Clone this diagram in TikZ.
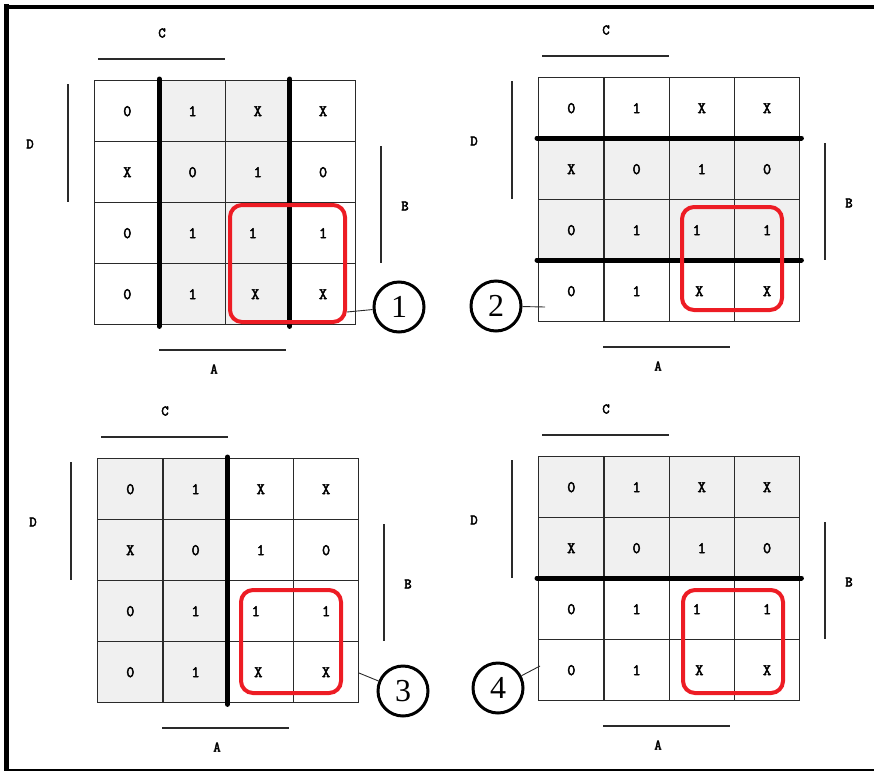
\documentclass[tikz,border=0pt]{standalone}
\usepackage{fontspec}
\newfontfamily\circfont{Liberation Serif}
\newfontfamily\monobold{Latin Modern Mono}[FakeBold=3]
\newcommand\cellfont{\monobold\fontsize{16}{16}\selectfont}
\newcommand\labfont{\monobold\fontsize{14.5}{14.5}\selectfont}
\usetikzlibrary{backgrounds}
\definecolor{kred}{HTML}{ED1C24}
\definecolor{kgray}{HTML}{F0F0F0}
\definecolor{kline}{HTML}{2A2A2A}
\tikzset{
  cell/.style={draw=kline, line width=1.4pt, minimum width=65.25pt, minimum height=61pt,
    inner sep=0pt, anchor=north west, font=\cellfont},
  lab/.style={inner sep=0pt, font=\labfont},
  barline/.style={draw=kline, line width=1.2pt},
  thickline/.style={line width=5pt, line cap=round},
  redbox/.style={draw=kred, line width=4pt, rounded corners=12pt},
  circ/.style={circle, draw, line width=3pt, minimum size=50pt, inner sep=0pt,
    font=\circfont\fontsize{32}{32}\selectfont},
  leader/.style={draw=kline, line width=0.9pt},
  frameline/.style={line width=#1}
}
\newcommand\cellshift[2]{%
  \ifnum#1=3 \ifnum#2=3 \kern10pt\fi\fi
  \ifnum#1=4 \ifnum#2=3 \kern5pt\fi\fi}
\newcommand\kmap[3]{%
  \foreach \row [count=\r] in {{0,1,X,X},{X,0,1,0},{0,1,1,1},{0,1,X,X}}{
    \foreach \v [count=\c] in \row{
      \node[cell] (#1-\r-\c) at ({#2+(\c-1)*65.25},{#3+(\r-1)*61}) {\v\cellshift{\r}{\c}};
    }
  }
  \node[lab] (#1-C) at ({#2+68},{#3-47}) {C};
  \draw[barline] ({#2+4},{#3-21}) -- ({#2+131},{#3-21});
  \node[lab] (#1-D) at ({#2-64},{#3+64}) {D};
  \draw[barline] ({#2-26},{#3+4}) -- ({#2-26},{#3+122});
  \node[lab] (#1-B) at ({#2+311},{#3+126}) {B};
  \draw[barline] ({#2+287},{#3+66}) -- ({#2+287},{#3+183});
  \node[lab] (#1-A) at ({#2+120},{#3+289}) {A};
  \draw[barline] ({#2+65},{#3+270}) -- ({#2+192},{#3+270});
}
\begin{document}
\begin{tikzpicture}[x=1pt,y=-1pt]
\useasboundingbox (0,0) rectangle (874,771);
% frame
\draw[frameline=5pt] (6.5,4) -- (6.5,770);
\draw[frameline=4pt] (4,6.5) -- (874,6.5);
\draw[frameline=2pt] (4,769.5) -- (874,769.5);

% map 1
\kmap{a}{94}{80}
\begin{scope}[on background layer]
  \fill[kgray] (a-1-2.north west) rectangle (a-4-3.south east);
\end{scope}
\draw[thickline] ([yshift=1pt]a-1-2.north west) -- ([yshift=-1pt]a-4-2.south west);
\draw[thickline] ([yshift=1pt]a-1-4.north west) -- ([yshift=-1pt]a-4-4.south west);
\draw[redbox] (230,205) rectangle (345,322);
\node[circ] (n1) at (399,307) {1};
\coordinate (t1) at (347,312);
\draw[leader] (n1) -- (t1);

% map 2
\kmap{b}{538}{77}
\begin{scope}[on background layer]
  \fill[kgray] (b-2-1.north west) rectangle (b-3-4.south east);
\end{scope}
\draw[thickline] ([xshift=-1pt]b-2-1.north west) -- ([xshift=1pt]b-2-4.north east);
\draw[thickline] ([xshift=-1pt]b-4-1.north west) -- ([xshift=1pt]b-4-4.north east);
\draw[redbox] (682,207) rectangle (782,310);
\node[circ] (n2) at (496,306) {2};
\coordinate (t2) at (545,307);
\draw[leader] (n2) -- (t2);

% map 3
\kmap{c}{97}{458}
\begin{scope}[on background layer]
  \fill[kgray] (c-1-1.north west) rectangle (c-4-2.south east);
\end{scope}
\draw[thickline] ([yshift=1pt]c-1-3.north west) -- ([yshift=-1pt]c-4-3.south west);
\draw[redbox] (241,590) rectangle (341,693);
\node[circ] (n3) at (403,691) {3};
\coordinate (t3) at (359,673);
\draw[leader] (n3) -- (t3);

% map 4
\kmap{d}{538}{456}
\begin{scope}[on background layer]
  \fill[kgray] (d-1-1.north west) rectangle (d-2-4.south east);
\end{scope}
\draw[thickline] ([xshift=-1pt]d-3-1.north west) -- ([xshift=1pt]d-3-4.north east);
\draw[redbox] (683,590) rectangle (783,693);
\node[circ] (n4) at (498,688) {4};
\coordinate (t4) at (540,666);
\draw[leader] (n4) -- (t4);
\end{tikzpicture}
\end{document}
